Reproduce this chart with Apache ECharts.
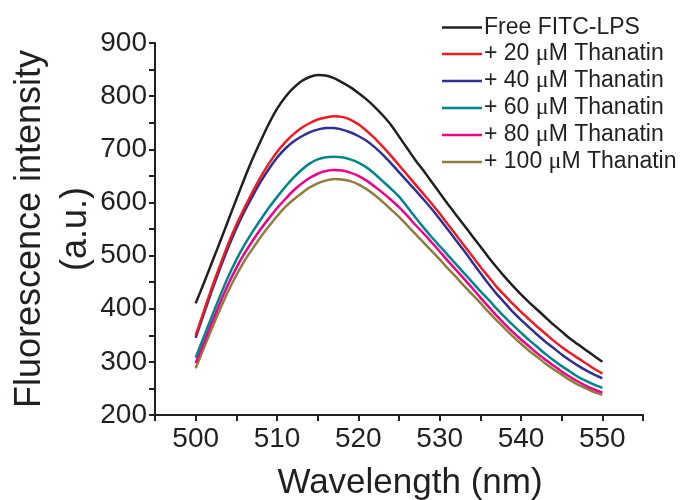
<!DOCTYPE html>
<html>
<head>
<meta charset="utf-8">
<script src="https://cdn.jsdelivr.net/npm/echarts@6/dist/echarts.min.js"></script>
<style>html,body{margin:0;padding:0;background:#fff}#c{width:693px;height:500px}</style>
</head>
<body>
<div id="c"></div>
<script>
var wavelengths = [];
for (var w = 500; w <= 550; w++) wavelengths.push(w);

var seriesNames = ['Free FITC-LPS', '+ 20 μM Thanatin', '+ 40 μM Thanatin', '+ 60 μM Thanatin', '+ 80 μM Thanatin', '+ 100 μM Thanatin'];
var seriesColors = ['#231f20', '#ed1c24', '#2e3192', '#00858a', '#ec008c', '#8f7d3c'];

var freeFITC = [410,448,487,526,566,606,645,682,716,748,776,798,815,828,836,840,839,834,826,817,806,794,780,764,746,724,702,680,660,639,618,597,577,557,537,517,497,478,460,443,427,412,398,384,370,357,344,333,322,311,300];
var thanatin20 = [350,395,440,482,522,558,590,620,648,673,695,713,728,740,749,756,760,762,761,756,747,735,721,705,688,670,652,634,616,598,579,559,539,519,499,479,460,441,425,409,394,380,366,353,340,328,317,307,297,287,278];
var thanatin40 = [345,390,434,476,515,551,583,612,639,663,684,701,714,724,732,737,740,740,737,732,725,716,704,690,674,657,640,623,606,588,569,549,529,509,488,467,447,428,411,394,379,365,351,338,326,314,303,293,284,276,269];
var thanatin60 = [308,347,386,424,460,492,520,545,568,590,610,629,646,661,673,681,685,686,685,681,675,666,654,640,626,611,592,572,553,535,518,501,484,467,450,433,417,400,384,369,355,341,328,315,303,292,282,272,264,257,251];
var thanatin80 = [298,336,374,411,446,477,504,528,550,570,589,606,622,635,646,654,659,661,660,656,650,641,630,618,605,591,575,558,542,525,508,490,473,456,439,421,404,387,371,356,342,329,316,304,293,282,272,263,255,248,242];
var thanatin100 = [288,326,363,399,433,463,490,513,535,555,574,591,605,617,628,636,641,644,643,640,634,625,614,601,587,573,557,541,525,509,493,476,460,443,427,411,394,378,363,348,334,321,309,297,286,276,266,257,250,243,238];

var allValues = [freeFITC, thanatin20, thanatin40, thanatin60, thanatin80, thanatin100];

var xTicks = [500, 510, 520, 530, 540, 550];
var yTicks = [200, 300, 400, 500, 600, 700, 800, 900];

var FONT = '"Liberation Sans", Arial, Helvetica, sans-serif';
var TXT = '#231f20';

var series = allValues.map(function (vals, i) {
  return {
    name: seriesNames[i],
    type: 'line',
    symbol: 'none',
    smooth: 0.2,
    data: vals.map(function (v, j) { return [wavelengths[j], v]; }),
    lineStyle: { color: seriesColors[i], width: 2.5 },
    itemStyle: { color: seriesColors[i] },
    z: 10 - i
  };
});

var chart = echarts.init(document.getElementById('c'), null, { renderer: 'canvas' });
chart.setOption({
  animation: false,
  backgroundColor: '#fff',
  textStyle: { fontFamily: FONT, color: TXT },
  grid: { left: 155, right: 50, top: 43, bottom: 85, containLabel: false, outerBoundsMode: 'none' },
  legend: {
    orient: 'vertical',
    left: 437,
    top: 11,
    itemWidth: 40,
    itemHeight: 14,
    itemGap: 3,
    data: seriesNames.map(function (n) { return { name: n, icon: 'path://M0,0 L40,0 L40,2.5 L0,2.5 Z' }; }),
    formatter: function (name) {
      return name.replace('μ', '{mu|μ}');
    },
    textStyle: {
      fontFamily: FONT, fontSize: 23, color: TXT, padding: [0, 0, 0, -3],
      rich: { mu: { fontFamily: '"Liberation Serif", "Times New Roman", serif', fontSize: 24, color: TXT } }
    }
  },
  xAxis: {
    type: 'value',
    min: 495, max: 555, interval: 5,
    name: 'Wavelength (nm)',
    nameLocation: 'middle',
    nameGap: 51,
    nameTextStyle: { fontFamily: FONT, fontSize: 35, color: TXT, padding: [0, 0, 0, 22] },
    axisLine: { show: true, onZero: false, lineStyle: { color: TXT, width: 2 } },
    axisTick: { show: true, inside: false, length: 6, lineStyle: { color: TXT, width: 2 } },
    splitLine: { show: false },
    axisLabel: {
      interval: 0,
      margin: 10,
      fontFamily: FONT, fontSize: 28, color: TXT,
      showMinLabel: true, showMaxLabel: true,
      formatter: function (v) { return xTicks.indexOf(v) >= 0 ? String(v) : ''; }
    }
  },
  yAxis: {
    type: 'value',
    min: 200, max: 900, interval: 50,
    name: 'Fluorescence intensity\n(a.u.)',
    nameLocation: 'middle',
    nameRotate: 90,
    nameGap: 56,
    nameMoveOverlap: false,
    nameTextStyle: { fontFamily: FONT, fontSize: 36, color: TXT, lineHeight: 46 },
    axisLine: { show: true, onZero: false, lineStyle: { color: TXT, width: 2 } },
    axisTick: { show: true, inside: false, length: 6, lineStyle: { color: TXT, width: 2 } },
    splitLine: { show: false },
    axisLabel: {
      interval: 0,
      margin: 8,
      fontFamily: FONT, fontSize: 28, color: TXT,
      formatter: function (v) { return yTicks.indexOf(v) >= 0 ? String(v) : ''; }
    }
  },
  series: series
});
</script>
</body>
</html>
